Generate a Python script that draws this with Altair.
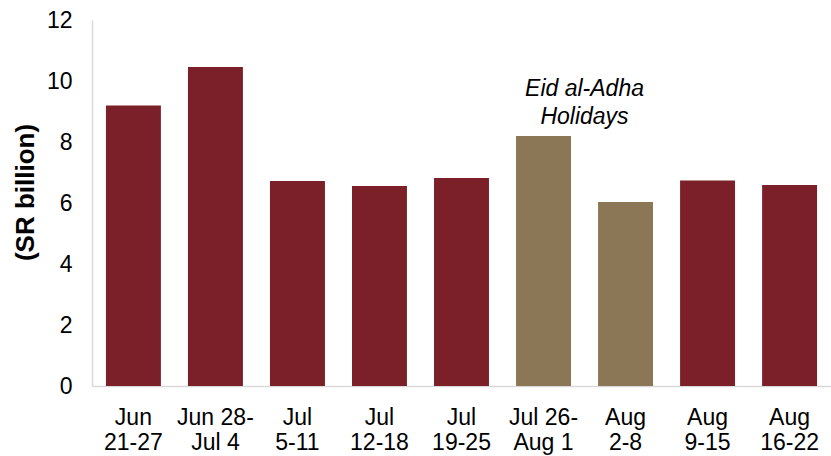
import altair as alt
import pandas as pd

# Weekly values, SR billion
weeks = ["Jun|21-27", "Jun 28-|Jul 4", "Jul|5-11", "Jul|12-18", "Jul|19-25",
         "Jul 26-|Aug 1", "Aug|2-8", "Aug|9-15", "Aug|16-22"]
values = [9.2, 10.46, 6.72, 6.56, 6.82, 8.2, 6.03, 6.74, 6.59]
groups = ["Regular", "Regular", "Regular", "Regular", "Regular",
          "Holiday", "Holiday", "Regular", "Regular"]

note_week = ["Jul 26-|Aug 1"]
note_value = [9.36]
note_text = [["Eid al-Adha", "Holidays"]]

FONT = "Liberation Sans"

bars_df = pd.DataFrame({"week": weeks, "value": values, "group": groups})
note_df = pd.DataFrame({"week": note_week, "value": note_value, "text": note_text})

x_enc = alt.X(
    "week:N",
    sort=weeks,
    scale=alt.Scale(paddingInner=0.33, paddingOuter=0.17),
    axis=alt.Axis(
        title=None,
        labelAngle=0,
        labelExpr="split(datum.label, '|')",
        labelFont=FONT,
        labelFontSize=23,
        labelColor="#000000",
        labelPadding=20,
        labelLineHeight=25,
        ticks=False,
        domainColor="#d9d9d9",
        domainWidth=1.5,
    ),
)

bars = alt.Chart(bars_df).mark_bar().encode(
    x=x_enc,
    y=alt.Y(
        "value:Q",
        scale=alt.Scale(domain=[0, 12]),
        axis=alt.Axis(
            title="(SR billion)",
            values=[0, 2, 4, 6, 8, 10, 12],
            grid=False,
            ticks=False,
            domainColor="#d9d9d9",
            domainWidth=1.5,
            labelFont=FONT,
            labelFontSize=23,
            labelColor="#000000",
            labelPadding=20,
            titleFont=FONT,
            titleFontSize=26,
            titleFontWeight="bold",
            titleColor="#000000",
            titlePadding=8,
            titleY=172,
        ),
    ),
    color=alt.Color(
        "group:N",
        scale=alt.Scale(domain=["Regular", "Holiday"], range=["#7b2029", "#8b7755"]),
        legend=None,
    ),
)

note = alt.Chart(note_df).mark_text(
    font=FONT,
    fontSize=23,
    fontStyle="italic",
    color="#000000",
    baseline="bottom",
    align="center",
    lineHeight=28,
    dx=41,
).encode(
    x=alt.X("week:N", sort=weeks),
    y=alt.Y("value:Q"),
    text="text",
)

chart = (
    alt.layer(bars, note)
    .properties(
        width=739,
        height=366,
        autosize=alt.AutoSizeParams(type="none"),
        padding={"left": 92, "top": 20, "right": 0, "bottom": 70},
        background="#ffffff",
    )
    .configure_view(stroke=None)
)

chart.save("out.html", embed_options={"renderer": "svg", "actions": False})
